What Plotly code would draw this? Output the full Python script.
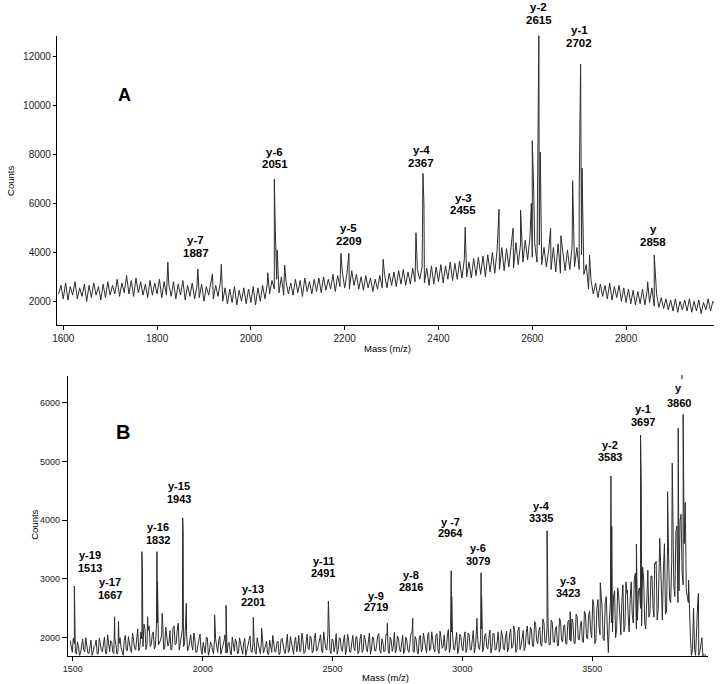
import numpy as np
import plotly.graph_objects as go

W, H = 720, 684

# ---------------- Panel A data ----------------
a_start, a_step = 1590, 5
a_baseline = [
    2300, 2650, 2100, 2750, 2050, 2600, 2250, 2800, 2100, 2550,
    2200, 2700, 2000, 2650, 2150, 2750, 2250, 2600, 2050, 2700,
    2150, 2800, 2250, 2650, 2300, 2900, 2200, 2750, 2350, 3050,
    2300, 2850, 2200, 2950, 2350, 2800, 2250, 2700, 2150, 2850,
    2250, 2750, 2300, 2900, 2150, 2800, 2250, 2700, 2200, 2800,
    2100, 2700, 2250, 2850, 2050, 2650, 2200, 2750, 2100, 2600,
    2150, 2700, 2000, 2600, 2250, 2750, 2100, 2650, 2200, 2800,
    2000, 2550, 1900, 2500, 1950, 2600, 1850, 2450, 2000, 2550,
    1900, 2500, 1950, 2600, 1850, 2550, 2000, 2650, 2100, 2700,
    2300, 2850, 2500, 2900, 2350, 3000, 2250, 2800, 2300, 2750,
    2250, 2900, 2350, 2850, 2200, 2950, 2400, 2800, 2300, 2900,
    2400, 2950, 2350, 3000, 2450, 2900, 2500, 3100, 2400, 3050,
    2600, 3200, 2550, 3150, 2500, 3250, 2650, 3100, 2500, 3000,
    2450, 3050, 2550, 2950, 2400, 2900, 2500, 3050, 2550, 3100,
    2550, 3150, 2650, 3200, 2600, 3250, 2700, 3300, 2650, 3200,
    2700, 3350, 2800, 3300, 2900, 3400, 2750, 3350, 2650, 3450,
    2700, 3400, 2800, 3500, 2750, 3450, 2900, 3600, 2850, 3550,
    2900, 3650, 2950, 3700, 3000, 3600, 2950, 3750, 3050, 3800,
    3100, 3850, 3000, 3900, 3200, 4000, 3150, 4100, 3300, 4200,
    3250, 4150, 3400, 4300, 3350, 4400, 3500, 4350, 3600, 4500,
    3700, 4600, 3800, 4400, 3600, 4300, 3500, 4200, 3400, 4100,
    3300, 4200, 3200, 4350, 3150, 4000, 3250, 4100, 3300, 4300,
    3400, 4200, 3300, 3900, 3100, 3500, 2500, 2900, 2300, 2750,
    2150, 2700, 2200, 2650, 2100, 2750, 2050, 2600, 2150, 2650,
    2000, 2550, 1950, 2500, 1900, 2450, 1850, 2400, 1900, 2500,
    1850, 2450, 1950, 2550, 1800, 2300, 1750, 2150, 1700, 2100,
    1650, 2050, 1600, 2100, 1550, 2000, 1650, 2050, 1600, 2100,
    1550, 2000, 1600, 2050, 1500, 1950, 1650, 2100, 1600, 2000,
    1900,
]
a_peak_mass = [1823, 1887, 1918, 1937, 2036, 2050, 2052, 2056, 2072,
               2192, 2209, 2282, 2352, 2367, 2369, 2457, 2529, 2559, 2575,
               2598, 2600, 2603, 2614, 2617, 2639, 2661, 2686, 2688,
               2700, 2703, 2706, 2722, 2846, 2860]
a_peak_counts = [3600, 3320, 3120, 3510, 3170, 7000, 4950, 4100, 3480,
                 3960, 3960, 3720, 4800, 7230, 5950, 5030, 5760, 4990, 5730,
                 6000, 8570, 6500, 12920, 8100, 4980, 4680, 6930, 5200,
                 6500, 11690, 7450, 3890, 2800, 3890]
a_label_top = ["y-7", "y-6", "y-5", "y-4", "y-3", "y-2", "y-1", "y"]
a_label_bottom = ["1887", "2051", "2209", "2367", "2455", "2615", "2702", "2858"]
a_xticks = [1600, 1800, 2000, 2200, 2400, 2600, 2800]
a_yticks = [2000, 4000, 6000, 8000, 10000, 12000]

# ---------------- Panel B data ----------------
b_start, b_step = 1490, 8
b_baseline = [
    1950, 1750, 1900, 1720, 1850, 1740, 1980, 1760, 1880, 1730,
    1960, 1750, 1870, 1720, 1990, 1780, 1900, 1740, 2050, 1760,
    1920, 1730, 1880, 1770, 2000, 1750, 1950, 1790, 2020, 1800,
    2080, 1820, 1990, 1780, 2100, 1850, 2150, 1900, 2200, 1880,
    2100, 1850, 2250, 1920, 2050, 1800, 2180, 1860, 2120, 1830,
    2200, 1900, 2250, 1950, 2150, 1880, 2100, 1820, 2050, 1790,
    1980, 1760, 1950, 1780, 1920, 1740, 2000, 1760, 1890, 1730,
    1970, 1750, 2020, 1780, 1940, 1740, 1900, 1760, 2010, 1770,
    1930, 1740, 1880, 1720, 1990, 1760, 1950, 1780, 1900, 1750,
    2000, 1770, 1920, 1740, 1870, 1730, 1960, 1750, 1890, 1760,
    1940, 1740, 1990, 1770, 1920, 1750, 2020, 1780, 1950, 1760,
    2040, 1790, 1970, 1760, 2060, 1800, 1990, 1770, 2080, 1800,
    2000, 1780, 2100, 1820, 2050, 1790, 1980, 1760, 2070, 1800,
    1990, 1770, 2050, 1790, 1960, 1750, 2040, 1780, 2010, 1770,
    2060, 1790, 1970, 1760, 2080, 1800, 2000, 1770, 2030, 1780,
    1980, 1760, 2060, 1790, 2010, 1770, 2090, 1800, 1990, 1760,
    2040, 1780, 1960, 1750, 2070, 1790, 2020, 1770, 2000, 1760,
    2080, 1800, 2020, 1780, 2100, 1810, 2040, 1790, 2110, 1820,
    2050, 1800, 2140, 1830, 2060, 1790, 2090, 1810, 2030, 1780,
    2100, 1820, 2060, 1790, 2120, 1830, 2050, 1800, 2150, 1840,
    2070, 1810, 2130, 1830, 2060, 1800, 2100, 1820, 2040, 1790,
    2110, 1830, 2150, 1850, 2080, 1810, 2180, 1860, 2120, 1840,
    2200, 1880, 2140, 1850, 2230, 1900, 2180, 1860, 2250, 1910,
    2200, 1880, 2260, 1920, 2190, 1870, 2280, 1930, 2220, 1890,
    2300, 1940, 2250, 1900, 2350, 1960, 2280, 1920, 2400, 1980,
    2450, 2000, 2550, 1950, 2650, 2050, 2500, 1950, 2700, 1750,
    2600, 2100, 2800, 2150, 2700, 2050, 2900, 2200, 2750, 2100,
    2950, 2250, 3100, 2300, 2850, 2200, 3000, 2150, 3150, 2400,
    3050, 2350, 3300, 2500, 3450, 2300, 3600, 2450, 3400, 2600,
    3700, 2700, 3900, 2800, 4100, 2900, 4300, 2700, 2400, 1700,
    2500, 1700, 2600, 1750, 2000, 1720, 1700,
]
# in-between samples of panel B (masses 1494, 1502, ... 3934)
b_mid_start = 1494
b_baseline_mid = [
    1820, 1990, 1760, 1930, 1700, 1880, 1790, 2000, 1740, 1910,
    1700, 1850, 1960, 1730, 1900, 1760, 2010, 1720, 1870, 1950,
    1760, 1990, 1720, 1900, 1830, 1700, 2040, 1780, 1890, 1750,
    1960, 1790, 2150, 1830, 1980, 2230, 1800, 2120, 1850, 2060,
    1810, 2200, 1880, 1960, 2280, 1820, 2050, 1900, 1790, 2170,
    1880, 2120, 1790, 2030, 1850, 2210, 1780, 1990, 1870, 2080,
    1750, 1880, 2060, 1720, 1850, 2010, 1700, 1930, 1790, 1990,
    1800, 1960, 1720, 1880, 2050, 1740, 1920, 1710, 1850, 1980,
    1730, 2000, 1800, 1910, 1700, 1860, 2030, 1750, 1960, 1720,
    1890, 1730, 2010, 1800, 1940, 1710, 1880, 2040, 1760, 1920,
    1710, 1970, 1840, 1730, 2060, 1780, 1900, 1720, 2010, 1850,
    1760, 2080, 1730, 1950, 1810, 2030, 1740, 1990, 1770, 1880,
    2050, 1740, 1920, 1790, 2090, 1730, 1960, 1850, 1720, 2000,
    1800, 1940, 1710, 2060, 1760, 1910, 1830, 2020, 1730, 1980,
    1750, 2040, 1820, 1930, 1720, 2010, 1790, 1880, 2070, 1740,
    1920, 1780, 2050, 1730, 1960, 1850, 1740, 2030, 1800, 1950,
    1730, 2010, 1790, 1900, 2080, 1750, 1970, 1720, 2040, 1810,
    1960, 1740, 2090, 1820, 1930, 1760, 2070, 1730, 1990, 1850,
    1780, 2030, 1750, 2100, 1810, 1950, 1730, 2060, 1840, 1990,
    1750, 2080, 1800, 1960, 1740, 2110, 1830, 1970, 1760, 2040,
    1830, 1990, 1740, 2080, 1790, 1940, 1760, 2120, 1810, 2010,
    1760, 2070, 1820, 2000, 1750, 2130, 1800, 2020, 1780, 2090,
    1900, 2180, 1860, 2280, 1950, 2100, 1870, 2320, 1920, 2170,
    1880, 2300, 1930, 2150, 1860, 2330, 1960, 2200, 1900, 2270,
    1960, 2320, 1910, 2400, 1980, 2200, 1940, 2450, 2000, 2380,
    2100, 2650, 1900, 2500, 2200, 2750, 1980, 2600, 2150, 2300,
    2250, 2700, 2000, 2850, 2300, 2600, 2100, 2950, 2400, 2650,
    2400, 3000, 2150, 2800, 2500, 3200, 2250, 2900, 2350, 3050,
    2500, 3250, 2300, 3500, 2700, 3150, 2400, 3550, 2650, 3300,
    2900, 3800, 2600, 4000, 3100, 3600, 2800, 2600, 2000, 1800,
    1800, 2300, 1700, 1900, 1690, 1700,
]
b_peak_mass = [1506, 1509, 1661, 1676, 1766, 1768, 1788, 1824, 1826, 1844,
               1923, 1925, 1937, 2046, 2090, 2195, 2227, 2484, 2487, 2711,
               2809, 2957, 2959, 3056, 3072, 3074, 3198, 3326, 3328, 3415,
               3531, 3572, 3575, 3635, 3670, 3686, 3689, 3740, 3760, 3790,
               3808, 3831, 3850, 3871, 3909]
b_peak_counts = [2880, 2330, 2357, 2280, 3464, 3190, 2357, 3464, 2950, 2415,
                 4040, 3780, 2585, 2386, 2551, 2347, 2160, 2625, 2250, 2245,
                 2330, 3140, 2700, 2330, 3106, 2700, 2200, 3820, 3100, 2443,
                 2936, 4752, 3900, 2812, 3595, 5450, 4500, 3266, 3692, 4485,
                 4970, 5564, 5800, 2982, 2756]
b_label_top = ["y-19", "y-17", "y-16", "y-15", "y-13", "y-11", "y-9", "y-8",
               "y -7", "y-6", "y-4", "y-3", "y-2", "y-1", "y"]
b_label_bottom = ["1513", "1667", "1832", "1943", "2201", "2491", "2719", "2816",
                  "2964", "3079", "3335", "3423", "3583", "3697", "3860"]
b_xticks = [1500, 2000, 2500, 3000, 3500]
b_yticks = [2000, 3000, 4000, 5000, 6000]

# ---------------- layout (pixel geometry) ----------------
A_BOX = dict(left=52.3, right=714, top=35.7, bottom=325, xr=[1586.5, 2987.5], yr=[1030, 12860])
B_BOX = dict(left=63.3, right=708, top=376, bottom=656, xr=[1481, 3946], yr=[1689, 6454])
a_label_px = [(192, 240, 252.5), (271.5, 152, 164.5), (346, 228.5, 241), (419.3, 150, 163),
              (461.7, 197.5, 210), (537.7, 7, 20), (578.3, 30, 43), (652.7, 229, 242)]
b_label_px = [(85.7, 555, 567.7), (105.5, 582.3, 595), (154, 527.3, 540), (175, 486, 498.7),
              (250, 589.3, 601.7), (320.7, 561, 573.3), (373.3, 595.7, 607.3), (409.3, 575, 587.3),
              (448.3, 521.7, 533.3), (476.7, 548.3, 560.7), (540, 505.7, 518.3), (567.3, 580.7, 593.3),
              (609.3, 445, 457.3), (642.7, 409.3, 421.7), (678.3, 388.3, 402.7)]

FONT = "Liberation Sans, Arial, sans-serif"
LINE_COLOR = "#2c2c2c"


def px(x):
    return x / W


def py(y):
    return 1 - y / H


def merged(parts, pm, pc):
    xs, ys = [], []
    for start, step, vals in parts:
        xs.append(start + step * np.arange(len(vals)))
        ys.append(np.asarray(vals, dtype=float))
    xs.append(np.asarray(pm, dtype=float))
    ys.append(np.asarray(pc, dtype=float))
    x = np.concatenate(xs)
    y = np.concatenate(ys)
    order = np.argsort(x, kind="stable")
    return x[order], y[order]


ax, ay = merged([(a_start, a_step, a_baseline)], a_peak_mass, a_peak_counts)
bx, by = merged([(b_start, b_step, b_baseline), (b_mid_start, b_step, b_baseline_mid)],
                b_peak_mass, b_peak_counts)

fig = go.Figure()
fig.add_trace(go.Scatter(x=ax, y=ay, mode="lines", xaxis="x", yaxis="y",
                         line=dict(color=LINE_COLOR, width=1), hoverinfo="skip", showlegend=False))
fig.add_trace(go.Scatter(x=bx, y=by, mode="lines", xaxis="x2", yaxis="y2",
                         line=dict(color=LINE_COLOR, width=1), hoverinfo="skip", showlegend=False))


def axis_common(size):
    return dict(showgrid=False, zeroline=False, showline=True, linecolor="black", linewidth=1,
                ticks="outside", tickcolor="black", tickwidth=1, tickformat="d",
                tickfont=dict(family=FONT, size=size, color="#222"), fixedrange=True)


fig.update_layout(
    width=W, height=H, margin=dict(l=0, r=0, t=0, b=0),
    paper_bgcolor="white", plot_bgcolor="white", showlegend=False,
    xaxis=dict(domain=[px(A_BOX["left"]), px(A_BOX["right"])], range=A_BOX["xr"], anchor="y",
               tickvals=a_xticks, ticklen=4, **axis_common(10)),
    yaxis=dict(domain=[py(A_BOX["bottom"]), py(A_BOX["top"])], range=A_BOX["yr"], anchor="x",
               tickvals=a_yticks, ticklen=3, **axis_common(10)),
    xaxis2=dict(domain=[px(B_BOX["left"]), px(B_BOX["right"])], range=B_BOX["xr"], anchor="y2",
                tickvals=b_xticks, ticklen=4, **axis_common(9)),
    yaxis2=dict(domain=[py(B_BOX["bottom"]), py(B_BOX["top"])], range=B_BOX["yr"], anchor="x2",
                tickvals=b_yticks, ticklen=5, **axis_common(9)),
)

ann = []


def txt(x, y, text, size, bold=True, angle=0):
    ann.append(dict(x=px(x), y=py(y), xref="paper", yref="paper", text=text, showarrow=False,
                    xanchor="center", yanchor="middle", textangle=angle,
                    font=dict(family=FONT, size=size, color="black",
                              weight="bold" if bold else "normal")))


for (cx, y1, y2), t1, t2 in zip(a_label_px, a_label_top, a_label_bottom):
    txt(cx, y1, t1, 11.5)
    txt(cx, y2, t2, 11.5)
for (cx, y1, y2), t1, t2 in zip(b_label_px, b_label_top, b_label_bottom):
    txt(cx, y1, t1, 11)
    txt(cx, y2, t2, 11)

txt(120, 95, "A", 18)
txt(119, 432, "B", 20)
txt(6, 181, "Counts", 9.5, bold=False, angle=-90)
txt(29, 525, "Counts", 9.5, bold=False, angle=-90)
txt(385, 348, "Mass (m/z)", 9.5, bold=False)
txt(383, 677, "Mass (m/z)", 9.5, bold=False)

fig.update_layout(annotations=ann)
fig.add_shape(type="line", xref="paper", yref="paper", x0=px(681.7), x1=px(681.7),
              y0=py(379), y1=py(375), line=dict(color="black", width=1))

fig.write_html("out.html", config={"displayModeBar": False, "staticPlot": True},
               post_script="document.body.style.margin='0';document.body.style.padding='0';")
